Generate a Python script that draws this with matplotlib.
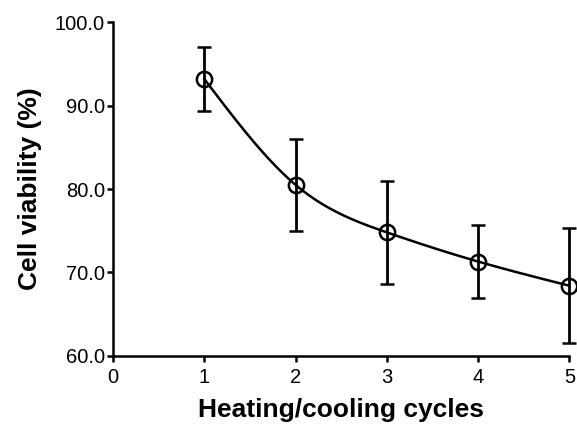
import numpy as np
import matplotlib
matplotlib.use("Agg")
import matplotlib.pyplot as plt

# data
cycles = [1, 2, 3, 4, 5]
viability = [93.2, 80.5, 74.8, 71.3, 68.4]
sd = [3.8, 5.5, 6.2, 4.4, 6.9]


def natural_spline(x, y, xs):
    # plain natural cubic spline, just to draw the smooth connecting curve
    x = np.asarray(x, float)
    y = np.asarray(y, float)
    n = len(x)
    h = np.diff(x)
    A = np.zeros((n, n))
    b = np.zeros(n)
    A[0, 0] = A[-1, -1] = 1
    for i in range(1, n - 1):
        A[i, i - 1] = h[i - 1]
        A[i, i] = 2 * (h[i - 1] + h[i])
        A[i, i + 1] = h[i]
        b[i] = 3 * ((y[i + 1] - y[i]) / h[i] - (y[i] - y[i - 1]) / h[i - 1])
    c = np.linalg.solve(A, b)
    out = np.empty_like(xs)
    for k, t in enumerate(xs):
        i = min(max(np.searchsorted(x, t) - 1, 0), n - 2)
        d = t - x[i]
        bi = (y[i + 1] - y[i]) / h[i] - h[i] * (2 * c[i] + c[i + 1]) / 3
        di = (c[i + 1] - c[i]) / (3 * h[i])
        out[k] = y[i] + bi * d + c[i] * d ** 2 + di * d ** 3
    return out


plt.rcParams['font.family'] = ['Liberation Sans', 'DejaVu Sans']

fig = plt.figure(figsize=(5.77, 4.24), dpi=100)
ax = fig.add_axes([0.196, 0.161, 0.791, 0.786])

xs = np.linspace(cycles[0], cycles[-1], 200)
ax.plot(xs, natural_spline(cycles, viability, xs), color='black', linewidth=1.8, zorder=2)
ax.errorbar(cycles, viability, yerr=sd, fmt='o', color='black', ecolor='black',
            elinewidth=2, capsize=5, capthick=2, markersize=11,
            markerfacecolor='none', markeredgewidth=1.8, zorder=3, clip_on=False)

ax.set_xlim(0, 5)
ax.set_ylim(60, 100)
ax.set_xticks([0, 1, 2, 3, 4, 5])
ax.set_yticks([60, 70, 80, 90, 100])
ax.set_yticklabels(['60.0', '70.0', '80.0', '90.0', '100.0'])

for s in ['top', 'right']:
    ax.spines[s].set_visible(False)
for s in ['left', 'bottom']:
    ax.spines[s].set_linewidth(1.8)
ax.tick_params(direction='out', length=4, width=1.8, labelsize=14.5, pad=2)
ax.tick_params(axis='x', pad=5)

ax.set_xlabel('Heating/cooling cycles', fontsize=19, fontweight='bold', labelpad=8)
ax.set_ylabel('Cell viability (%)', fontsize=19, fontweight='bold', labelpad=9)

plt.savefig('out.png', dpi=100)
